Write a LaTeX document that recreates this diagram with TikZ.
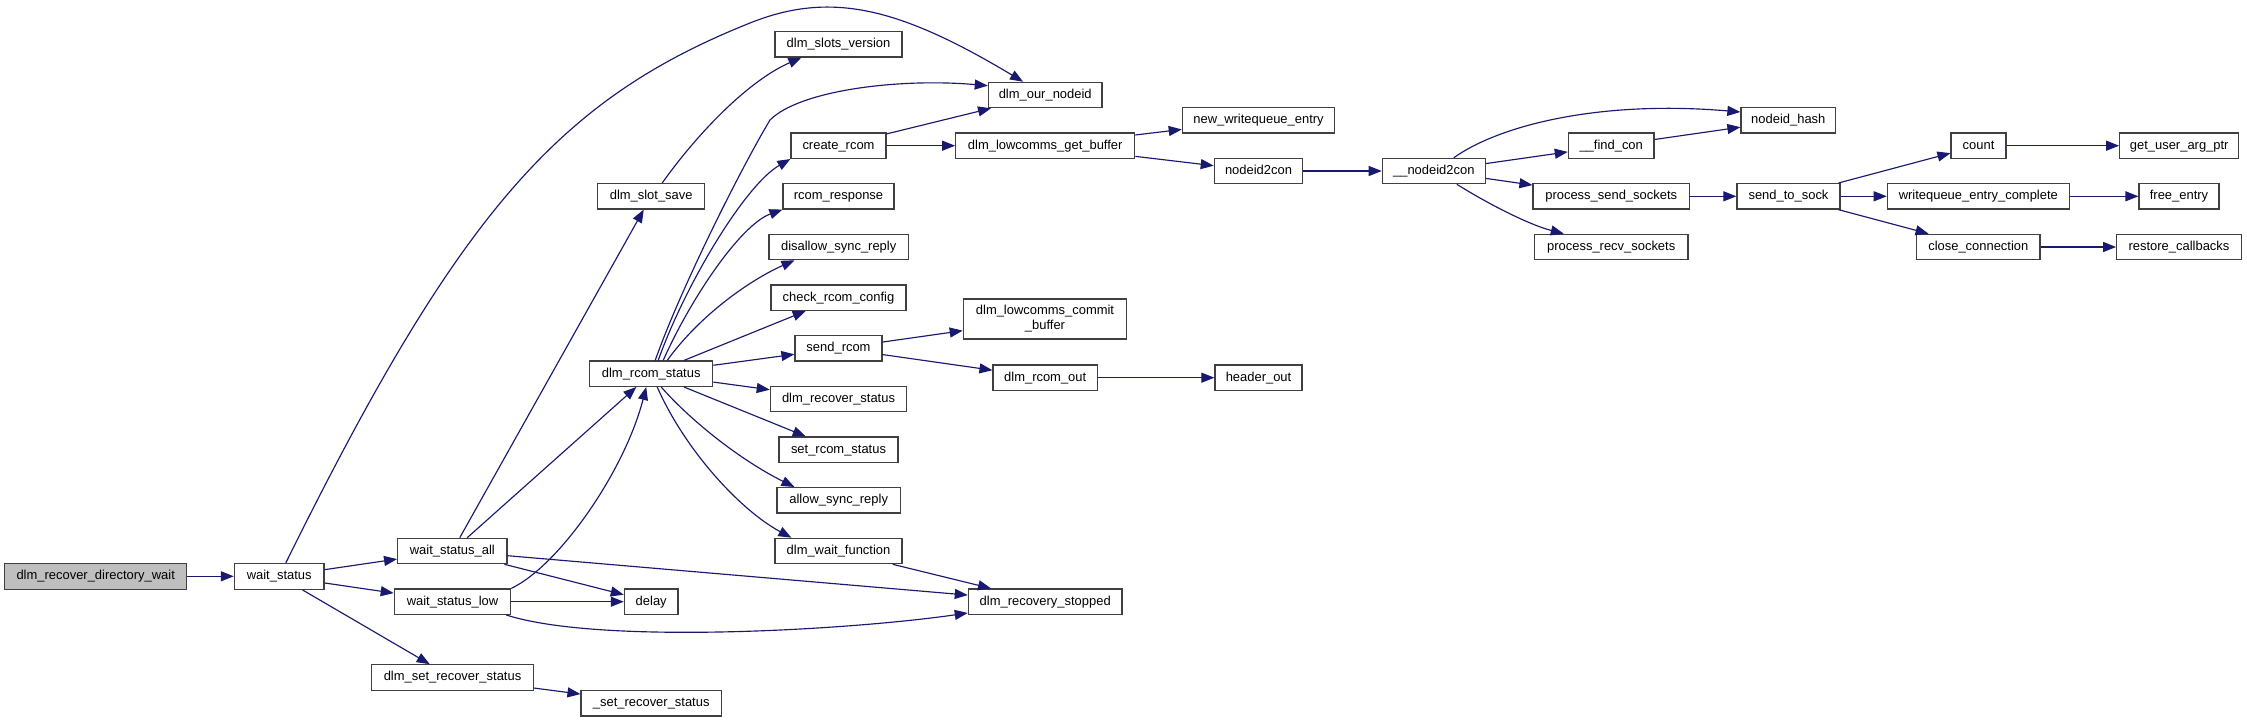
\documentclass[tikz,border=0pt]{standalone}
\usepackage{fontspec}
\setmainfont{Liberation Sans}
\usetikzlibrary{arrows.meta}
\definecolor{edgeblue}{RGB}{25,25,112}
\definecolor{boxline}{RGB}{64,64,64}
\definecolor{rootfill}{RGB}{191,191,191}
\begin{document}
\begin{tikzpicture}[x=1bp,y=-1bp,
 fn/.style={draw=boxline, line width=1.2bp, fill=white, inner sep=0pt, minimum height=25.4bp, font=\fontsize{13}{15}\selectfont, text height=9.5bp, text depth=2.7bp},
 root/.style={fn, fill=rootfill},
 edge/.style={draw=edgeblue, line width=1.15bp, -{Triangle[length=13bp,width=10bp]}},
]
\fill[white] (0,0) rectangle (2247,722);
\useasboundingbox (0,0) rectangle (2247,722);

\node[root, minimum width=182bp, minimum height=26bp] (drdw) at (95.7,576.3) {dlm\_recover\_directory\_wait};
\node[fn, minimum width=89.7bp, minimum height=26bp] (ws) at (279.2,576.3) {wait\_status};
\node[fn, minimum width=109.3bp] (wsa) at (452.3,551) {wait\_status\_all};
\node[fn, minimum width=116.4bp] (wsl) at (452.5,601.7) {wait\_status\_low};
\node[fn, minimum width=161.6bp] (dsrs) at (452.5,677.5) {dlm\_set\_recover\_status};
\node[fn, minimum width=140.3bp] (srs) at (651.2,703.2) {\_set\_recover\_status};
\node[fn, minimum width=53.7bp] (delay) at (651.2,601.7) {delay};
\node[fn, minimum width=107bp] (dss) at (651.2,196.3) {dlm\_slot\_save};
\node[fn, minimum width=123bp] (drs) at (651.2,373.7) {dlm\_rcom\_status};
\node[fn, minimum width=127bp] (dsv) at (838.5,44.3) {dlm\_slots\_version};
\node[fn, minimum width=113.7bp] (don) at (1045.2,95) {dlm\_our\_nodeid};
\node[fn, minimum width=95bp] (cr) at (838.5,145.7) {create\_rcom};
\node[fn, minimum width=111bp] (rr) at (838.5,196.3) {rcom\_response};
\node[fn, minimum width=139.3bp] (dsr) at (838.7,247) {disallow\_sync\_reply};
\node[fn, minimum width=135bp] (crc) at (838.5,297.7) {check\_rcom\_config};
\node[fn, minimum width=87bp] (sr) at (838.5,348.3) {send\_rcom};
\node[fn, minimum width=136.4bp] (drcs) at (838.5,399) {dlm\_recover\_status};
\node[fn, minimum width=119bp] (srcs) at (838.5,449.7) {set\_rcom\_status};
\node[fn, minimum width=123.3bp] (asr) at (838.7,500.3) {allow\_sync\_reply};
\node[fn, minimum width=127bp] (dwf) at (838.5,551) {dlm\_wait\_function};
\node[fn, minimum width=153.7bp] (drst) at (1045.2,601.7) {dlm\_recovery\_stopped};
\node[fn, minimum width=179bp] (dlgb) at (1045.2,145.7) {dlm\_lowcomms\_get\_buffer};
\node[fn, minimum width=163.4bp, minimum height=40bp, align=center, text height=, text depth=] (dlcb) at (1045,319) {dlm\_lowcomms\_commit\\\_buffer};
\node[fn, minimum width=104.3bp] (dro) at (1045.2,377.7) {dlm\_rcom\_out};
\node[fn, minimum width=152.4bp] (nwe) at (1258.5,120.3) {new\_writequeue\_entry};
\node[fn, minimum width=88.4bp] (n2c) at (1258.5,171) {nodeid2con};
\node[fn, minimum width=87bp] (ho) at (1258.5,377.7) {header\_out};
\node[fn, minimum width=103bp] (un2c) at (1433.8,171) {\_\_nodeid2con};
\node[fn, minimum width=85.7bp] (fc) at (1611.2,145.7) {\_\_find\_con};
\node[fn, minimum width=94.7bp] (nh) at (1788.3,120.3) {nodeid\_hash};
\node[fn, minimum width=156.3bp] (pss) at (1611.2,196.3) {process\_send\_sockets};
\node[fn, minimum width=153.7bp] (prs) at (1611.2,247) {process\_recv\_sockets};
\node[fn, minimum width=103bp] (sts) at (1788.5,196.3) {send\_to\_sock};
\node[fn, minimum width=55bp] (cnt) at (1978.5,145.7) {count};
\node[fn, minimum width=182bp] (wec) at (1978.3,196.3) {writequeue\_entry\_complete};
\node[fn, minimum width=123.3bp] (cc) at (1978.3,247) {close\_connection};
\node[fn, minimum width=119bp] (guap) at (2179.2,145.7) {get\_user\_arg\_ptr};
\node[fn, minimum width=80bp] (fe) at (2179,196.3) {free\_entry};
\node[fn, minimum width=124.6bp] (rc) at (2179,247) {restore\_callbacks};

\coordinate (k1) at (750,23);
\coordinate (k2) at (770,120);

\draw[edge] (drdw) -- (ws);
\draw[edge] (ws) -- (wsa);
\draw[edge] (ws) -- (wsl);
\draw[edge] (ws) -- (dsrs);
\draw[edge] (ws) .. controls (460,210) and (560,99) .. (k1) .. controls (830,-9) and (898,6.6) .. (don);
\draw[edge] (wsa) -- (dss);
\draw[edge] (wsa) -- (drs);
\draw[edge] (wsa) -- (delay);
\draw[edge] (wsa) -- (drst);
\draw[edge] (wsl.north east) .. controls (560,565) and (625,470) .. ([xshift=-5bp]drs.south);
\draw[edge] (wsl) -- (delay);
\draw[edge] ([xshift=-5bp]wsl.south east) .. controls (600,645) and (850,630) .. ([yshift=2bp]drst.south west);
\draw[edge] (dsrs) -- (srs);
\draw[edge] ([xshift=11bp]dss.north) .. controls (700,130) and (750,80) .. ([xshift=27bp]dsv.south west);
\draw[edge] ([xshift=4bp]drs.north) .. controls (680,290) and (740,170) .. (k2) .. controls (800,90) and (900,78) .. ([yshift=-4bp]don.north west);
\draw[edge] ([xshift=7bp]drs.north) .. controls (685,285) and (745,185) .. (cr.south west);
\draw[edge] ([xshift=12bp]drs.north) .. controls (690,300) and (740,225) .. (rr.south west);
\draw[edge] ([xshift=16bp]drs.north) .. controls (700,315) and (750,280) .. ([xshift=26bp]dsr.south west);
\draw[edge] (drs) -- (crc);
\draw[edge] (drs) -- (sr);
\draw[edge] (drs) -- (drcs);
\draw[edge] (drs) -- (srcs);
\draw[edge] ([xshift=10bp]drs.south) .. controls (690,420) and (740,460) .. ([xshift=18bp]asr.north west);
\draw[edge] ([xshift=6bp]drs.south) .. controls (685,450) and (740,510) .. ([xshift=17bp]dwf.north west);
\draw[edge] (dwf) -- (drst);
\draw[edge] (cr) -- (don);
\draw[edge] (cr) -- (dlgb);
\draw[edge] (dlgb) -- (nwe);
\draw[edge] (dlgb) -- (n2c);
\draw[edge] (n2c) -- (un2c);
\draw[edge] (sr) -- (dlcb);
\draw[edge] (sr) -- (dro);
\draw[edge] (dro) -- (ho);
\draw[edge] ([xshift=20bp]un2c.north) .. controls (1500,125) and (1600,100) .. ([yshift=-5bp]nh.north west);
\draw[edge] (un2c) -- (fc);
\draw[edge] (fc) -- (nh);
\draw[edge] (un2c) -- (pss);
\draw[edge] ([xshift=23bp]un2c.south) .. controls (1490,205) and (1530,225) .. ([xshift=30bp]prs.north west);
\draw[edge] (pss) -- (sts);
\draw[edge] (sts) -- (cnt);
\draw[edge] (sts) -- (wec);
\draw[edge] (sts) -- (cc);
\draw[edge] (cnt) -- (guap);
\draw[edge] (wec) -- (fe);
\draw[edge] (cc) -- (rc);
\end{tikzpicture}
\end{document}
